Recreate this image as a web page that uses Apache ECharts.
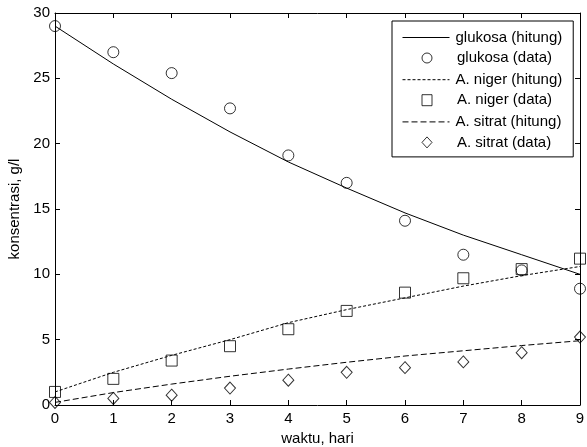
<!DOCTYPE html>
<html lang="en">
<head>
    <meta charset="UTF-8">
    <title>konsentrasi</title>
    <script src="https://cdn.jsdelivr.net/npm/echarts@6/dist/echarts.min.js"></script>
</head>
<body style="margin:0;background:#fff;">

    <div id="app" style="width: 587px;height: 447px;"></div>

    <script>
        // waktu (hari)
        const hari = [0, 1, 2, 3, 4, 5, 6, 7, 8, 9]

        const glukosaHitung = [29.0, 26.1, 23.4, 20.9, 18.6, 16.6, 14.7, 13.0, 11.5, 10.0]
        const glukosaData   = [29.0, 27.0, 25.4, 22.7, 19.1, 17.0, 14.1, 11.5, 10.3, 8.9]
        const nigerHitung   = [1.0, 2.5, 3.8, 5.0, 6.3, 7.3, 8.2, 9.1, 9.9, 10.6]
        const nigerData     = [1.0, 2.0, 3.4, 4.5, 5.8, 7.2, 8.6, 9.7, 10.4, 11.2]
        const sitratHitung  = [0.2, 0.95, 1.6, 2.2, 2.75, 3.27, 3.75, 4.15, 4.55, 4.92]
        const sitratData    = [0.2, 0.5, 0.75, 1.3, 1.9, 2.5, 2.86, 3.3, 4.0, 5.2]

        const pts = arr => arr.map((v, i) => [hari[i], v])

        const font = 'Liberation Sans, Arial, sans-serif'

        var myChart = echarts.init(document.getElementById('app'));

        const lineSeries = (name, data, type) => ({
            name: name,
            type: 'line',
            data: pts(data),
            showSymbol: false,
            symbol: 'none',
            lineStyle: { color: '#000', width: 1, type: type },
            itemStyle: { color: 'rgba(0,0,0,0)', borderWidth: 0 },
            z: 2
        })

        const dotSeries = (name, data, symbol, size) => ({
            name: name,
            type: 'scatter',
            data: pts(data),
            symbol: symbol,
            symbolSize: size,
            itemStyle: { color: 'none', borderColor: '#000', borderWidth: 1 },
            z: 3
        })

        const hiddenDot = { color: 'rgba(0,0,0,0)', borderWidth: 0 }

        const axisBase = {
            type: 'value',
            axisLine: { show: true, onZero: false, lineStyle: { color: '#000', width: 1 } },
            axisTick: { show: true, inside: true, length: 5, lineStyle: { color: '#000' } },
            splitLine: { show: false }
        }

        var option = {
            animation: false,
            backgroundColor: '#fff',
            textStyle: { fontFamily: font },
            grid: { left: 55, right: 7, top: 13, bottom: 42, show: false, containLabel: false, outerBoundsMode: 'none' },
            legend: [
                {
                    orient: 'vertical',
                    left: 392,
                    top: 21,
                    padding: [9, 11, 27.5, 10],
                    itemGap: 27.2,
                    itemWidth: 47,
                    itemHeight: 11,
                    borderColor: '#000',
                    borderWidth: 1,
                    borderRadius: 0,
                    backgroundColor: '#fff',
                    lineStyle: { width: 1 },
                    textStyle: { color: '#000', fontSize: 15, lineHeight: 10, fontFamily: font, padding: [0, 0, 0, 1] },
                    data: [
                        { name: 'glukosa (hitung)', itemStyle: hiddenDot },
                        { name: 'A. niger (hitung)', itemStyle: hiddenDot },
                        { name: 'A. sitrat (hitung)', itemStyle: hiddenDot }
                    ]
                },
                {
                    orient: 'vertical',
                    left: 421.5,
                    top: 50.5,
                    padding: 0,
                    itemGap: 27.2,
                    itemWidth: 10,
                    itemHeight: 11,
                    z: 5,
                    itemStyle: { color: 'rgba(0,0,0,0)', borderColor: '#000', borderWidth: 1 },
                    textStyle: { color: '#000', fontSize: 15, lineHeight: 10, fontFamily: font, padding: [0, 0, 0, 20] },
                    data: [
                        { name: 'glukosa (data)' },
                        { name: 'A. niger (data)' },
                        { name: 'A. sitrat (data)' }
                    ]
                }
            ],
            xAxis: [
                Object.assign({}, axisBase, {
                    min: 0, max: 9, interval: 1,
                    name: 'waktu, hari',
                    nameLocation: 'middle',
                    nameGap: 24,
                    nameTextStyle: { color: '#000', fontSize: 15, fontFamily: font },
                    axisLabel: { color: '#000', fontSize: 15, fontFamily: font, margin: 6 }
                }),
                Object.assign({}, axisBase, {
                    position: 'top',
                    min: 0, max: 9, interval: 1,
                    axisLabel: { show: false }
                })
            ],
            yAxis: [
                Object.assign({}, axisBase, {
                    min: 0, max: 30, interval: 5,
                    name: 'konsentrasi, g/l',
                    nameLocation: 'middle',
                    nameGap: 30,
                    nameTextStyle: { color: '#000', fontSize: 15, fontFamily: font },
                    axisLabel: { color: '#000', fontSize: 15, fontFamily: font, margin: 5 }
                }),
                Object.assign({}, axisBase, {
                    position: 'right',
                    min: 0, max: 30, interval: 5,
                    axisLabel: { show: false }
                })
            ],
            series: [
                lineSeries('glukosa (hitung)', glukosaHitung, 'solid'),
                dotSeries('glukosa (data)', glukosaData, 'circle', 11),
                lineSeries('A. niger (hitung)', nigerHitung, [3, 2]),
                dotSeries('A. niger (data)', nigerData, 'rect', 11),
                lineSeries('A. sitrat (hitung)', sitratHitung, [6, 3]),
                dotSeries('A. sitrat (data)', sitratData, 'diamond', [11, 12])
            ]
        };

        myChart.setOption(option);
    </script>

</body>
</html>
